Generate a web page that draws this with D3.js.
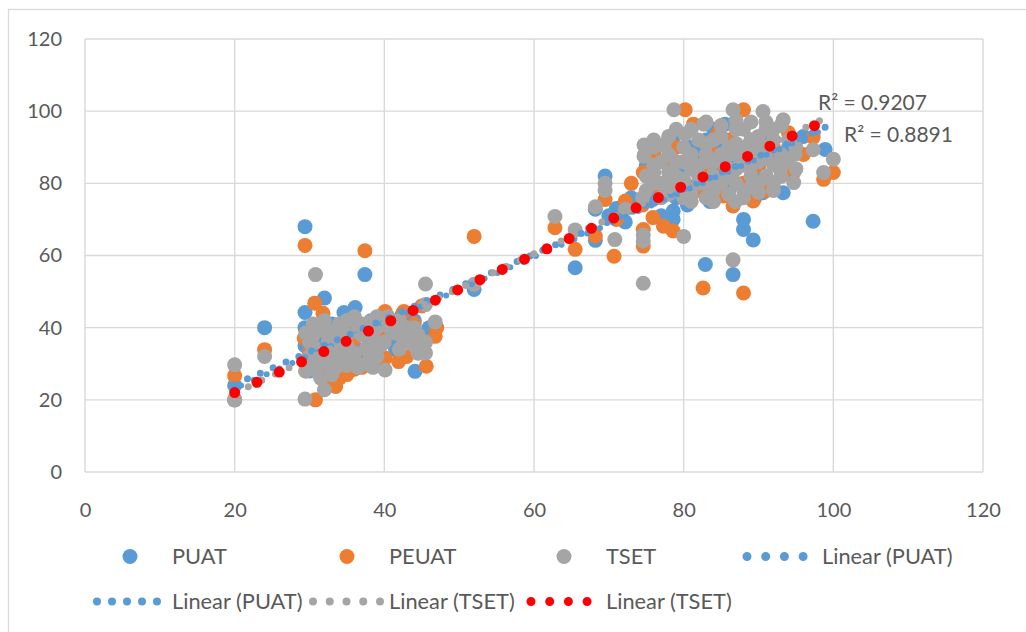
<!DOCTYPE html>
<html><head><meta charset="utf-8">
<script src="https://cdn.jsdelivr.net/npm/d3@7"></script>
<style>
html,body{margin:0;padding:0;background:#fff;}
svg text{font-family:Lato,"Open Sans","Liberation Sans",sans-serif;fill:#595959;}
</style></head>
<body>
<svg id="c" width="1026" height="632"></svg>
<script>
// ---------- DATA ----------
const xTicks = [0, 20, 40, 60, 80, 100, 120];
const yTicks = [0, 20, 40, 60, 80, 100, 120];

const puatX = [20,20,24,29.4,37.4,32,29.4,34.6,36.1,44.1,36.1,41.5,45.4,42.4,38.2,31.2,29.4,29.4,30.5,31,32,33,34,35,36,37,38,39,40,41,42,43,44,45,46,33,35,30,32,39.5,43,44.5,
  52,65.5,
  68.2,68.2,69.5,72.2,70,74.8,75,76,77,78.6,78.6,78.5,80,81,82,82.9,83,84,85.5,85,86,86.6,87,88,88,88,89.3,89,90,90.6,91,92,93.3,94,95,96,97.3,98.9,73,71,72,75.5,79,80.5,81,83.5,85,86,88.5,89.5,91.5,84,75.9,77];
const puatY = [20,24,40,68,54.7,48.2,44.2,44.2,45.6,27.9,34.4,33.9,35.8,43.6,41.9,38,40,35,30,33,36,31,29,33,38,32,36,38,40,37,36,39,42,38,40,41,40,28,28,42.5,44,33,
  50.6,56.6,
  64.2,72.8,82,69.3,71,88,85,80,79,72.3,70,92,85,90,88,57.5,92,84,96.4,90,86,54.7,80,88,70,67.2,64.3,92,84,77.4,94,86,77.4,90,92,93,69.5,89.4,76,73,74,78,76,74,79,75,77,78,78,76,79,95,75.5,71];

const peuatX = [20,20,24,29.4,37.4,30.7,30.8,33.5,40.1,46.8,45.6,42.6,34,35,36,37,38.8,40.1,41.9,43,33,29.3,30,32,34,36,38,40,44,45,47,35.5,37.5,31,32.5,29.5,41,31.8,
  52,62.8,65.5,
  68.2,69.5,70.7,72.2,74.6,74.6,75.9,77.3,78.6,80.2,81.3,82.6,88,88,85.3,86.6,89.3,90.6,94.7,97.3,98.7,100,74.6,76,78,80,82,84,86,88,90,92,94,96,91,93,83,87,79,77,73,71,85,89,74.5,80.5,84.5];
const peuatY = [26.7,20,33.9,62.8,61.3,46.8,20,23.7,44.5,37.6,29.3,44.5,26,27,28.5,29,30.6,31.6,30.6,32,25,37.1,33,40,35,37,40,38,41,46,40,42,34,30,28,28,42,44,
  65.3,67.7,61.7,
  65.4,75.5,59.8,75.1,62.6,67.2,70.5,68.1,66.8,100.4,96.4,51,49.6,100.4,76.5,73.7,75.1,78.3,83,92.7,81.1,83,83,88,85,80,78,88,92,80,85,90,94,88,78,82,84,95,90,78,80,70,82,89,74,76,93.5];

const tsetX = [20,20,24,30.8,29.4,32,45.5,46.8,40.1,45.5,45.5,45.5,44.5,43,42,41,40,39,38.5,37.5,36.5,36,35,34,33,32,31,30,29.5,29.5,30.5,31.5,32,33,33.5,34.5,35.5,36.5,37.5,38.5,39.5,41.5,43.5,44.5,30.5,31.5,32.5,31.5,33,35,38,40.5,42.5,36,34,29.5,
  30,31,32,33,34,35,36,37,38,39,40,41,42,43,44,30.5,32,34,31,33,35,37,39,42,44,
  52,62.8,65.5,
  68.2,69.5,69.5,70.8,72.2,74.6,74.6,74.6,74.7,74.7,77.4,78.7,80,80.2,82.7,86.6,86.6,90.6,93.3,100,98.7,97.3,94.9,94.7,86.9,
  75,75,76,77,78,78,79,80,80,80,81,82,82,82,83,84,84,84,85,85,86,86,87,87,87,88,88,89,89,89,90,90,91,91,92,92,93,93,94,85,83,79,76,77,81,83,86,88,90,74.5,80,87,91,93,89,
  76,76,76,78,78,78,79,79,81,81,81,83,83,83,84,85,85,86,87,87,88,89,89,90,90,91,91,92,92,93,94,95,95,77,80,82,84,86,88,90,92];
const tsetY = [29.7,20,32,54.7,20.2,22.8,52.1,41.6,28.3,46.4,36,33,38,40,42,39,41,43,37,34,40,43,38,36,34,30,28,32,38.5,30,41,40,42,39,29,31,30,29,30,29,35,38.5,36,33,35,33,36,26,27,29.5,41.5,43,37,33,41,28,
  36,31,33,37,32,35,31,38,33,40,36,41,39,37,40,38,39,39,29,31,42,41,32,34,35,
  52,70.8,67.1,
  73.5,80,78,64.4,72.8,65.7,52.3,64,90.6,87.5,90.6,100.4,65.3,93.6,96.4,58.8,100.4,99.9,97.6,86.7,83,89.3,88.1,80.2,74.9,
  82,78,85,80,88,83,78,90,86,81,77,92,85,80,88,82,78,92,86,80,90,84,95,88,80,85,78,92,88,82,86,80,95,90,85,80,88,82,92,96,97,95,92,76,75,76,77,76,77.5,76,79,97.5,97,96,97,
  80,83,90,80,93,77,86,82,84,88,95,80,86,91,75,88,93,82,84,91,95,79,85,88,93,82,87,95,78,85,86,90,84,86,76,82,86,88,90,91,92];

const seriesNames = ["PUAT", "PEUAT", "TSET"];
const seriesColors = ["#5b9bd5", "#ed7d31", "#a5a5a5"];

// trendlines
const trendLabels = ["Linear (PUAT)", "Linear (PUAT)", "Linear (TSET)", "Linear (TSET)"];
const trendSlope = [0.903, 0.91, 0.965, 0.955];
const trendIntercept = [6.2, 5.0, 2.6, 2.9];
const trendXFrom = [20, 20, 20, 20];
const trendXTo = [99.5, 99.5, 99, 99];
const rSquaredLabels = ["R² = 0.9207", "R² = 0.8891"];

// ---------- DRAW ----------
const svg = d3.select("#c");
const x = d3.scaleLinear().domain([0, 120]).range([85, 983]);
const y = d3.scaleLinear().domain([0, 120]).range([472, 39]);

svg.append("rect").attr("x", 8.5).attr("y", 9.5).attr("width", 1040).attr("height", 650)
  .attr("fill", "#fff").attr("stroke", "#d9d9d9").attr("stroke-width", 1.3);

const g = svg.append("g");
g.selectAll(".gx").data(xTicks).join("line")
  .attr("x1", d => x(d)).attr("x2", d => x(d)).attr("y1", y(0)).attr("y2", y(120))
  .attr("stroke", "#d9d9d9").attr("stroke-width", 1.4);
g.selectAll(".gy").data(yTicks).join("line")
  .attr("x1", x(0)).attr("x2", x(120)).attr("y1", d => y(d)).attr("y2", d => y(d))
  .attr("stroke", "#d9d9d9").attr("stroke-width", 1.4);

const xAxis = svg.append("g").attr("transform", `translate(0,${y(0)})`)
  .call(d3.axisBottom(x).tickValues(xTicks).tickSize(0).tickPadding(31));
const yAxis = svg.append("g").attr("transform", `translate(${x(0)},0)`)
  .call(d3.axisLeft(y).tickValues(yTicks).tickSize(0).tickPadding(23));
[xAxis, yAxis].forEach(a => {
  a.select(".domain").remove();
  a.selectAll("text").attr("font-size", 20).style("fill", "#595959")
    .style("font-family", "Lato, 'Open Sans', sans-serif");
});

const seriesData = [
  d3.zip(puatX, puatY),
  d3.zip(peuatX, peuatY),
  d3.zip(tsetX, tsetY)
];
seriesData.forEach((pts, i) => {
  svg.append("g").selectAll("circle").data(pts).join("circle")
    .attr("cx", d => x(d[0])).attr("cy", d => y(d[1])).attr("r", 7.5)
    .attr("fill", seriesColors[i]);
});

const trendStyle = [
  {color: "#5b9bd5", w: 7, dash: "0 14", off: 0},
  {color: "#5b9bd5", w: 6, dash: "0 14", off: 7},
  {color: "#a5a5a5", w: 7, dash: "0 15", off: 0},
  {color: "#ff0000", w: 11, dash: "0 24.55", off: 0}
];
trendLabels.forEach((lab, i) => {
  const x0 = trendXFrom[i], x1 = trendXTo[i];
  const st = trendStyle[i];
  svg.append("line")
    .attr("x1", x(x0)).attr("y1", y(trendSlope[i] * x0 + trendIntercept[i]))
    .attr("x2", x(x1)).attr("y2", y(trendSlope[i] * x1 + trendIntercept[i]))
    .attr("stroke", st.color).attr("stroke-width", st.w)
    .attr("stroke-linecap", "round").attr("stroke-dasharray", st.dash)
    .attr("stroke-dashoffset", st.off);
});

svg.append("text").attr("x", 818).attr("y", 110).attr("font-size", 21).text(rSquaredLabels[0]);
svg.append("text").attr("x", 844).attr("y", 141.5).attr("font-size", 21).text(rSquaredLabels[1]);

const leg = svg.append("g");
const markerX = [130, 347, 564];
const textX1 = [172, 389, 606];
seriesNames.forEach((n, i) => {
  leg.append("circle").attr("cx", markerX[i]).attr("cy", 556.5).attr("r", 7.5).attr("fill", seriesColors[i]);
  leg.append("text").attr("x", textX1[i]).attr("y", 564).attr("font-size", 21.8).text(n);
});
const legTrend = [
  {x1: 747, x2: 803, y: 556.5, gap: 18.7, w: 9, text: 822, ty: 564},
  {x1: 97, x2: 157, y: 601.5, gap: 15, w: 8, text: 172, ty: 609},
  {x1: 313, x2: 380, y: 601.5, gap: 16.75, w: 8, text: 389, ty: 609},
  {x1: 531, x2: 587, y: 601.5, gap: 18.7, w: 9, text: 606, ty: 609}
];
legTrend.forEach((lt, i) => {
  leg.append("line").attr("x1", lt.x1).attr("x2", lt.x2 + 0.5).attr("y1", lt.y).attr("y2", lt.y)
    .attr("stroke", trendStyle[i].color).attr("stroke-width", lt.w)
    .attr("stroke-linecap", "round").attr("stroke-dasharray", `0 ${lt.gap}`);
  leg.append("text").attr("x", lt.text).attr("y", lt.ty).attr("font-size", 21.8).text(trendLabels[i]);
});
</script>
</body></html>
